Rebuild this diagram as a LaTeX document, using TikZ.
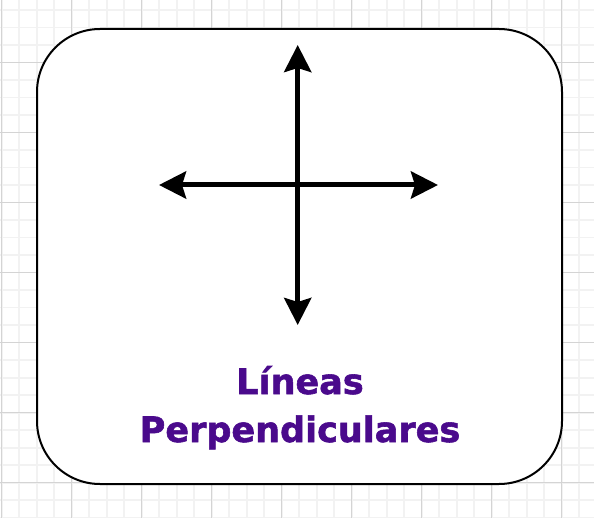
\documentclass[tikz,border=0pt]{standalone}
\usepackage{fontspec}
\newfontfamily\labelfont{DejaVu Sans}[BoldFeatures={FakeBold=1.6}]
\usetikzlibrary{arrows.meta}
\definecolor{minorgrid}{HTML}{F2F2F2}
\definecolor{majorgrid}{HTML}{D4D4D4}
\definecolor{labelpurple}{HTML}{4A0A8C}
\tikzset{
  minorline/.style={draw=minorgrid, line width=1.6pt},
  majorline/.style={draw=majorgrid, line width=1pt},
  card/.style={draw=black, fill=white, line width=2pt, rounded corners=63pt, minimum width=525pt, minimum height=455pt, inner sep=0pt},
  axisarrow/.style={line width=5pt, {Stealth[length=27pt, width=27pt, inset=4pt]}-{Stealth[length=27pt, width=27pt, inset=4pt]}},
  title/.style={text=labelpurple, font=\labelfont\bfseries\fontsize{35}{48}\selectfont, align=center, inner sep=0pt}
}
\begin{document}
\begin{tikzpicture}[x=1pt, y=-1pt]
  \useasboundingbox (0,0) rectangle (594,518);
  \fill[white] (0,0) rectangle (594,518);
  % grid
  \foreach \i in {0,...,34} {\draw[minorline] ({1.7+17.5*\i},0) -- ({1.7+17.5*\i},518);}
  \foreach \i in {0,...,30} {\draw[minorline] (0,{-7.3+17.5*\i}) -- (594,{-7.3+17.5*\i});}
  \foreach \i in {0,...,8} {\draw[majorline] ({1.7+70*\i},0) -- ({1.7+70*\i},518);}
  \foreach \i in {0,...,7} {\draw[majorline] (0,{-7.3+70*\i}) -- (594,{-7.3+70*\i});}
  % card
  \node[card] (box) at (299.5,256.5) {};
  % arrows
  \coordinate (up) at (297.7,45);
  \coordinate (down) at (297.7,325);
  \coordinate (left) at (159,185);
  \coordinate (right) at (438,185);
  \draw[axisarrow] (left) -- (right);
  \draw[axisarrow] (down) -- (up);
  % label
  \node[title, anchor=base] (label) at (300,442) {Líneas\\Perpendiculares};
\end{tikzpicture}
\end{document}
